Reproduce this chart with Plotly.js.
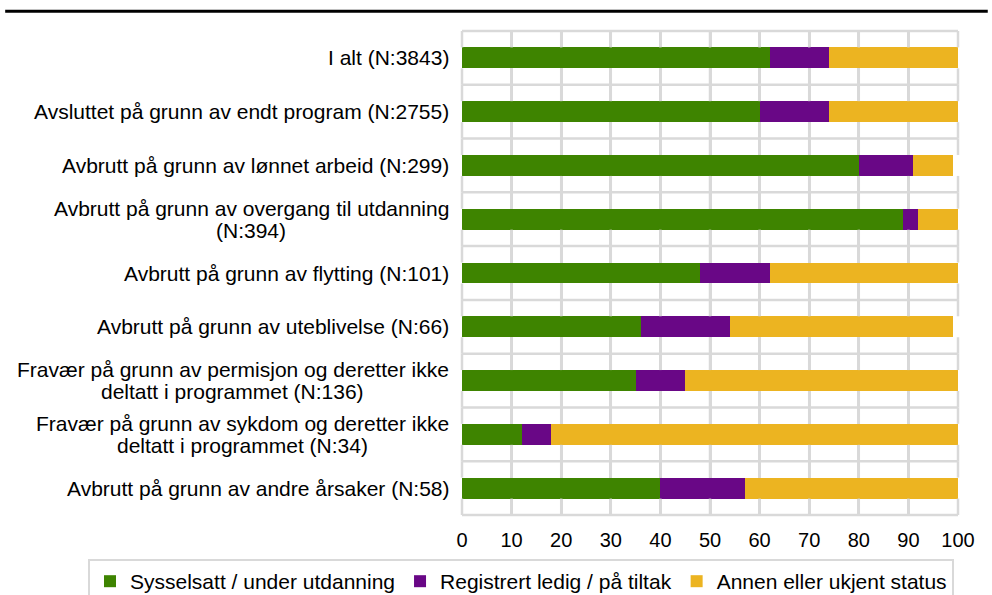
<!DOCTYPE html>
<html>
<head>
<meta charset="utf-8">
<script src="https://cdn.plot.ly/plotly-3.0.1.min.js"></script>
<style>html,body{margin:0;padding:0;background:#fff;}#chart{width:992px;height:595px;}</style>
</head>
<body>
<div id="chart"></div>
<script>
const categories = [
  "I alt (N:3843)",
  "Avsluttet på grunn av endt program (N:2755)",
  "Avbrutt på grunn av lønnet arbeid (N:299)",
  "Avbrutt på grunn av overgang til utdanning<br>(N:394)",
  "Avbrutt på grunn av flytting (N:101)",
  "Avbrutt på grunn av uteblivelse (N:66)",
  "Fravær på grunn av permisjon og deretter ikke<br>deltatt i programmet (N:136)",
  "Fravær på grunn av sykdom og deretter ikke<br>deltatt i programmet (N:34)",
  "Avbrutt på grunn av andre årsaker (N:58)"
];
const seriesNames = ["Sysselsatt / under utdanning", "Registrert ledig / på tiltak", "Annen eller ukjent status"];
const sysselsatt = [62, 60, 80, 89, 48, 36, 35, 12, 40];
const ledig      = [12, 14, 11, 3, 14, 18, 10, 6, 17];
const annen      = [26, 26.4, 8, 8, 38.4, 45, 55, 82, 43];
const colors = ["#3e8400", "#690786", "#ecb421"];
const xTicks = [0, 10, 20, 30, 40, 50, 60, 70, 80, 90, 100];
const xRange = [0, 100];

const FONT = "Liberation Sans, Arial, sans-serif";
const LABEL_SIZE = 21;
const GRID = "#d9d9d9";
const BARGAP = 0.61;

const values = [sysselsatt, ledig, annen];
const traces = values.map((v, i) => ({
  type: "bar",
  orientation: "h",
  name: seriesNames[i],
  x: v,
  y: categories,
  marker: {color: colors[i], line: {width: 0}},
  hoverinfo: "x+name"
}));

const ctx = document.createElement("canvas").getContext("2d");
ctx.font = LABEL_SIZE + "px 'Liberation Sans', Arial, sans-serif";

const annotations = [];
categories.forEach(c => {
  const lines = c.split("<br>");
  const widths = lines.map(l => ctx.measureText(l).width);
  const maxW = Math.max(...widths);
  lines.forEach((ln, j) => {
    annotations.push({
      text: ln,
      xref: "paper", x: 0, xanchor: "right",
      xshift: -11 - (maxW - widths[j]) / 2,
      yref: "y", y: c, yanchor: "middle",
      yshift: ((lines.length - 1) / 2 - j) * 22,
      showarrow: false,
      font: {family: FONT, size: LABEL_SIZE, color: "#000"}
    });
  });
});

// grid in plot-fraction coordinates, derived from the axis range and the category count;
// vertical grid lines only in the gaps so that the bars stay on top of them
const n = categories.length;
const half = (1 - BARGAP) / 2;
const fx = t => (t - xRange[0]) / (xRange[1] - xRange[0]);
const fy = p => 1 - (p + 0.5) / n;          // category position -> paper y (reversed axis)
const shapes = [];
xTicks.forEach(t => {
  for (let i = 0; i < n; i++) {
    shapes.push({type: "line", xref: "paper", yref: "paper",
      x0: fx(t), x1: fx(t), y0: fy(i - 0.5), y1: fy(i - half), line: {color: GRID, width: 2.5}});
    shapes.push({type: "line", xref: "paper", yref: "paper",
      x0: fx(t), x1: fx(t), y0: fy(i + half), y1: fy(i + 0.5), line: {color: GRID, width: 2.5}});
  }
});
for (let i = 0; i <= n; i++) {
  shapes.push({type: "line", xref: "paper", yref: "paper",
    x0: 0, x1: 1, y0: fy(i - 0.5), y1: fy(i - 0.5), line: {color: GRID, width: 2.5}});
}
shapes.push({
  type: "line", xref: "paper", yref: "paper",
  x0: -0.921, x1: 1.06, y0: 1.041, y1: 1.041,
  line: {color: "#000", width: 3}
});

const layout = {
  width: 992, height: 595,
  margin: {l: 462, r: 34, t: 31, b: 80, pad: 0, autoexpand: false},
  barmode: "stack",
  bargap: BARGAP,
  paper_bgcolor: "#ffffff", plot_bgcolor: "#ffffff",
  font: {family: FONT, size: LABEL_SIZE, color: "#000"},
  showlegend: true,
  legend: {
    orientation: "h", x: -0.754, xanchor: "left", y: -0.091, yanchor: "top",
    bordercolor: GRID, borderwidth: 2,
    font: {family: FONT, size: LABEL_SIZE, color: "#000"},
    traceorder: "normal"
  },
  xaxis: {
    range: xRange, tickmode: "array", tickvals: xTicks, ticktext: xTicks.map(String),
    showgrid: true, gridcolor: GRID, gridwidth: 2.5,
    zeroline: false, showline: false,
    ticks: "outside", ticklen: 7, tickcolor: "rgba(0,0,0,0)",
    tickfont: {family: FONT, size: 20, color: "#000"}, fixedrange: true
  },
  yaxis: {
    type: "category", autorange: "reversed",
    showgrid: false, showline: false,
    showticklabels: false, ticks: "", zeroline: false, fixedrange: true
  },
  annotations: annotations,
  shapes: shapes
};

Plotly.newPlot("chart", traces, layout, {displayModeBar: false});
</script>
</body>
</html>
